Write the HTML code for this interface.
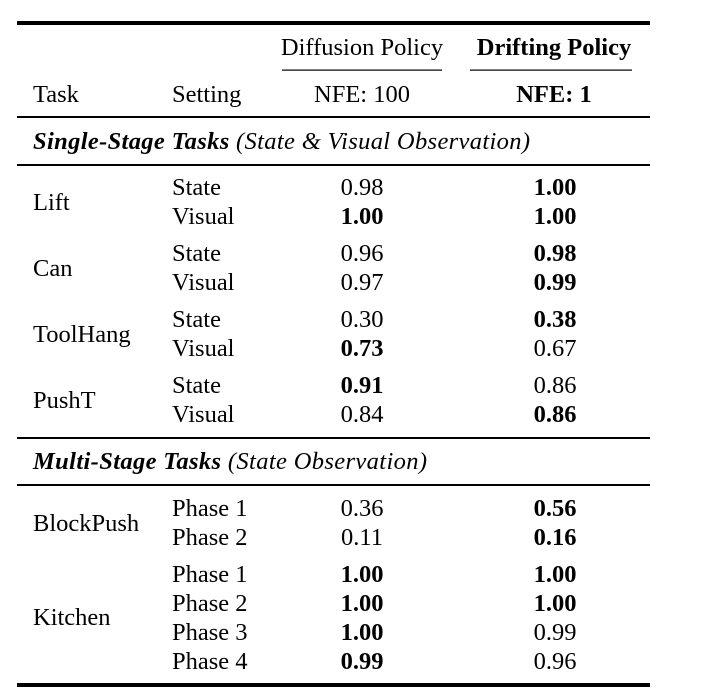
<!DOCTYPE html>
<html><head><meta charset="utf-8"><style>
html,body{margin:0;padding:0;background:#fff;}
svg{display:block;}
text{font-family:"Liberation Serif",serif;font-size:24.5px;fill:#000;}
.b{font-weight:bold;}
.c{text-anchor:middle;}
.i{font-style:italic;}
</style></head><body>
<svg width="714" height="692" xmlns="http://www.w3.org/2000/svg">
<rect x="17" y="21" width="633" height="4" fill="#000"/>
<rect x="282" y="69.5" width="160" height="1.2" fill="#000"/>
<rect x="470" y="69.5" width="162" height="1.2" fill="#000"/>
<rect x="17" y="116" width="633" height="2" fill="#000"/>
<rect x="17" y="164" width="633" height="2" fill="#000"/>
<rect x="17" y="437" width="633" height="2" fill="#000"/>
<rect x="17" y="484" width="633" height="2" fill="#000"/>
<rect x="17" y="683" width="633" height="4" fill="#000"/>

<text x="362" y="55" class="c">Diffusion Policy</text>
<text x="554" y="55" class="c b">Drifting Policy</text>
<text x="33" y="102">Task</text>
<text x="172" y="102">Setting</text>
<text x="362" y="102" class="c">NFE: 100</text>
<text x="554" y="102" class="c b">NFE: 1</text>

<text x="33" y="149" class="i" textLength="497" lengthAdjust="spacing"><tspan class="b">Single-Stage Tasks</tspan> (State &amp; Visual Observation)</text>

<text x="33" y="210">Lift</text>
<text x="172" y="195">State</text><text x="362" y="195" class="c">0.98</text><text x="555" y="195" class="c b">1.00</text>
<text x="172" y="224">Visual</text><text x="362" y="224" class="c b">1.00</text><text x="555" y="224" class="c b">1.00</text>

<text x="33" y="276">Can</text>
<text x="172" y="261">State</text><text x="362" y="261" class="c">0.96</text><text x="555" y="261" class="c b">0.98</text>
<text x="172" y="290">Visual</text><text x="362" y="290" class="c">0.97</text><text x="555" y="290" class="c b">0.99</text>

<text x="33" y="342">ToolHang</text>
<text x="172" y="327">State</text><text x="362" y="327" class="c">0.30</text><text x="555" y="327" class="c b">0.38</text>
<text x="172" y="356">Visual</text><text x="362" y="356" class="c b">0.73</text><text x="555" y="356" class="c">0.67</text>

<text x="33" y="408">PushT</text>
<text x="172" y="393">State</text><text x="362" y="393" class="c b">0.91</text><text x="555" y="393" class="c">0.86</text>
<text x="172" y="422">Visual</text><text x="362" y="422" class="c">0.84</text><text x="555" y="422" class="c b">0.86</text>

<text x="33" y="469" class="i" textLength="394" lengthAdjust="spacing"><tspan class="b">Multi-Stage Tasks</tspan> (State Observation)</text>

<text x="33" y="531">BlockPush</text>
<text x="172" y="516">Phase 1</text><text x="362" y="516" class="c">0.36</text><text x="555" y="516" class="c b">0.56</text>
<text x="172" y="545">Phase 2</text><text x="362" y="545" class="c">0.11</text><text x="555" y="545" class="c b">0.16</text>

<text x="33" y="625">Kitchen</text>
<text x="172" y="582">Phase 1</text><text x="362" y="582" class="c b">1.00</text><text x="555" y="582" class="c b">1.00</text>
<text x="172" y="611">Phase 2</text><text x="362" y="611" class="c b">1.00</text><text x="555" y="611" class="c b">1.00</text>
<text x="172" y="640">Phase 3</text><text x="362" y="640" class="c b">1.00</text><text x="555" y="640" class="c">0.99</text>
<text x="172" y="669">Phase 4</text><text x="362" y="669" class="c b">0.99</text><text x="555" y="669" class="c">0.96</text>
</svg>
</body></html>
